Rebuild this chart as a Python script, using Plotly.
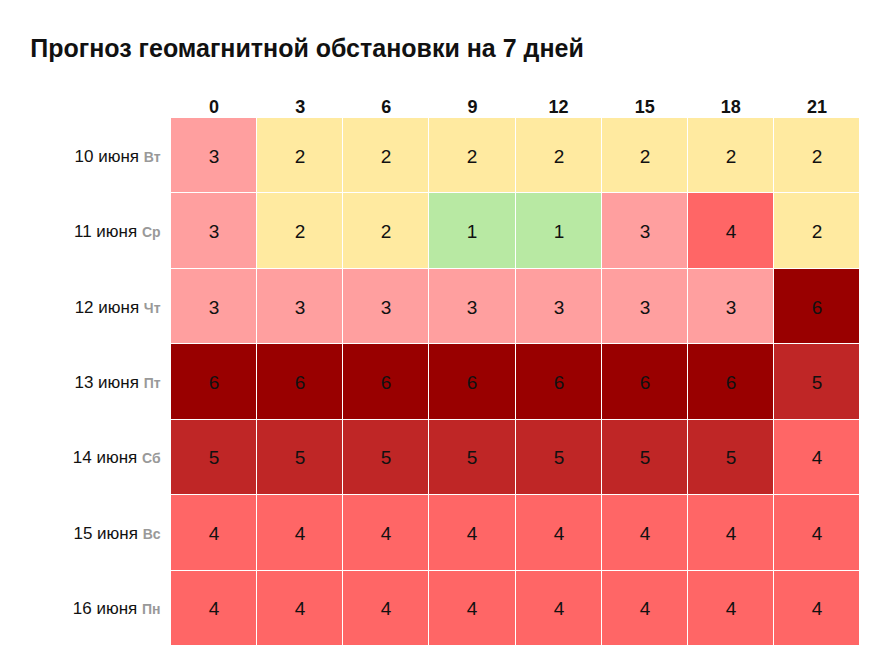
import plotly.graph_objects as go

hours = ["0", "3", "6", "9", "12", "15", "18", "21"]
dates = ["10 июня", "11 июня", "12 июня", "13 июня", "14 июня", "15 июня", "16 июня"]
weekdays = ["Вт", "Ср", "Чт", "Пт", "Сб", "Вс", "Пн"]
kp = [
    [3, 2, 2, 2, 2, 2, 2, 2],
    [3, 2, 2, 1, 1, 3, 4, 2],
    [3, 3, 3, 3, 3, 3, 3, 6],
    [6, 6, 6, 6, 6, 6, 6, 5],
    [5, 5, 5, 5, 5, 5, 5, 4],
    [4, 4, 4, 4, 4, 4, 4, 4],
    [4, 4, 4, 4, 4, 4, 4, 4],
]

# цвета по уровням 1..6
level_colors = ["#b8e9a3", "#ffeaa0", "#ff9f9f", "#ff6666", "#bf2626", "#990000"]
scale = []
for i, c in enumerate(level_colors):
    scale.append([i / 6, c])
    scale.append([(i + 1) / 6, c])

labels = [f"{d} <span style='color:#999999;font-size:14px'><b>{w}</b></span>  "
          for d, w in zip(dates, weekdays)]

fig = go.Figure(go.Heatmap(
    z=kp, x=hours, y=labels,
    zmin=0.5, zmax=6.5, colorscale=scale, showscale=False,
    xgap=1, ygap=1,
    text=kp, texttemplate="%{text}",
    textfont=dict(size=19, color="#111111"),
    hoverinfo="skip",
))

fig.update_layout(
    width=891, height=668,
    margin=dict(l=163, r=39, t=110, b=30),
    paper_bgcolor="white", plot_bgcolor="white",
    font=dict(family="Liberation Sans, Arial, sans-serif", color="#111111"),
    title=dict(text="<b>Прогноз геомагнитной обстановки на 7 дней</b>",
               x=0.025, xanchor="left", y=0.94, yanchor="middle",
               font=dict(size=25, color="#111111")),
)
fig.update_xaxes(side="top", showgrid=False, zeroline=False, ticks="",
                 tickfont=dict(size=18), tickprefix="<b>", ticksuffix="</b>")
fig.update_yaxes(autorange="reversed", showgrid=False, zeroline=False, ticks="",
                 tickfont=dict(size=17, color="#111111"))

fig.write_html("out.html")
